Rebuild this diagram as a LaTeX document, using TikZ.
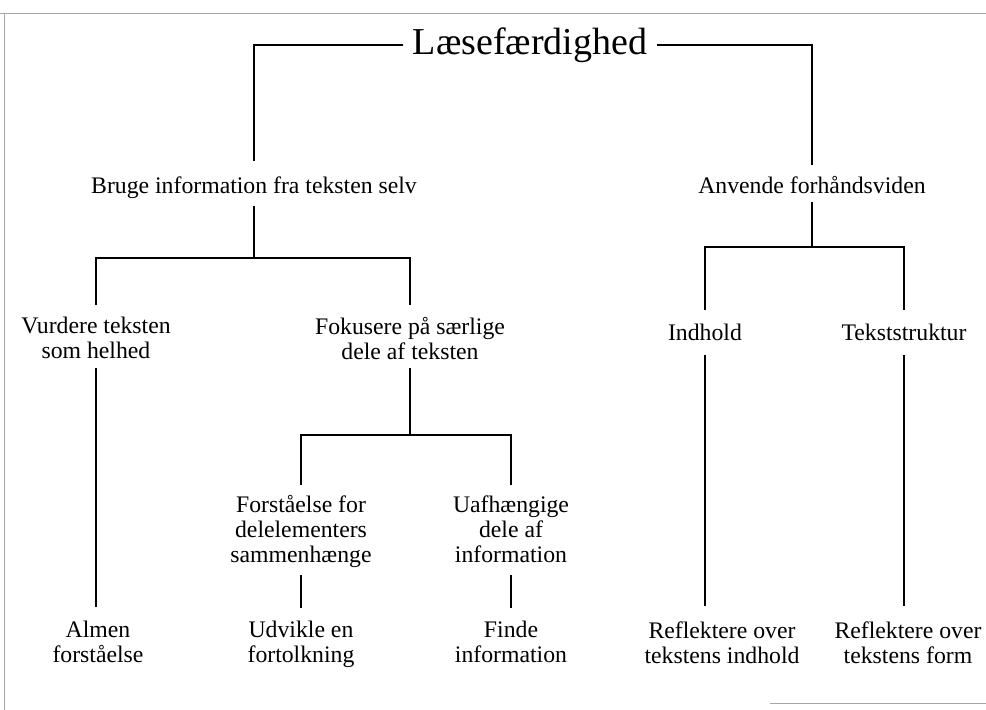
\documentclass[tikz,border=0pt]{standalone}
\usepackage{fontspec}
\setmainfont{Liberation Serif}
\begin{document}
\begin{tikzpicture}[x=0.75pt,y=-0.75pt,
  lbl/.style={align=center,inner xsep=2pt,inner ysep=1pt,
    font=\fontsize{17.8}{18.75}\selectfont,
    execute at begin node=\strut, execute at end node=\strut},
  ttl/.style={inner xsep=7pt,inner ysep=4pt,font=\fontsize{28.5}{32}\selectfont},
  conn/.style={line width=1.3pt,black},
  frame/.style={line width=0.7pt,gray!70}]
\useasboundingbox (0,0) rectangle (986,710);
% page frame
\draw[frame] (0,13) -- (986,13);
\draw[frame] (4,13) -- (4,710);
\draw[frame] (770,703) -- (986,703);
% nodes
\node[ttl] (t) at (530,45) {Læsefærdighed};
\node[lbl] (b) at (254,188) {Bruge information fra teksten selv};
\node[lbl] (a) at (812,188) {Anvende forhåndsviden};
\node[lbl] (v) at (96,342) {Vurdere teksten\\som helhed};
\node[lbl] (f) at (410,342) {Fokusere på særlige\\dele af teksten};
\node[lbl] (i) at (705,335) {Indhold};
\node[lbl] (ts) at (904,335) {Tekststruktur};
\node[lbl] (fo) at (301,533) {Forståelse for\\delelementers\\sammenhænge};
\node[lbl] (u) at (511,533) {Uafhængige\\dele af\\information};
\node[lbl] (al) at (98,646) {Almen\\forståelse};
\node[lbl] (ud) at (301,646) {Udvikle en\\fortolkning};
\node[lbl] (fi) at (511,646) {Finde\\information};
\node[lbl] (r1) at (722,646) {Reflektere over\\tekstens indhold};
\node[lbl] (r2) at (908,646) {Reflektere over\\tekstens form};
% junctions
\coordinate (jb) at (254,258);
\coordinate (jf) at (410,435);
\coordinate (ja) at (812,247);
% connectors
\draw[conn,shorten >=10pt] (t.west) -| (b.north);
\draw[conn,shorten >=7pt] (t.east) -| (a.north);
\draw[conn,shorten <=3pt] (b.south) -- (jb);
\draw[conn,shorten <=8pt,shorten >=8pt] (v.north) |- (jb) -| (f.north);
\draw[conn] (f.south) -- (jf);
\draw[conn,shorten <=7pt,shorten >=7pt] (fo.north) |- (jf) -| (u.north);
\draw[conn] (a.south) -- (ja);
\draw[conn,shorten <=8pt,shorten >=8pt] (i.north) |- (ja) -| (ts.north);
\draw[conn,shorten >=10pt] (v.south) -- (v.south |- al.north);
\draw[conn,shorten <=2.5pt,shorten >=9pt] (fo.south) -- (fo.south |- ud.north);
\draw[conn,shorten <=2.5pt,shorten >=9pt] (u.south) -- (u.south |- fi.north);
\draw[conn,shorten <=4.5pt,shorten >=10pt] (i.south) -- (i.south |- r1.north);
\draw[conn,shorten <=4.5pt,shorten >=10pt] (ts.south) -- (ts.south |- r2.north);
\end{tikzpicture}
\end{document}
